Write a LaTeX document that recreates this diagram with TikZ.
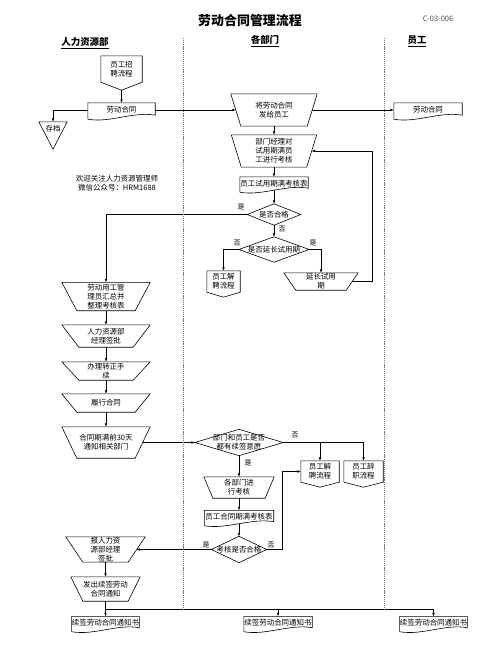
\documentclass[tikz,border=0pt]{standalone}
\usepackage{fontspec}
\setmainfont{Noto Sans CJK SC}
\usetikzlibrary{arrows.meta,calc}
\newcommand\flowfont{\fontsize{7.5}{9}\selectfont}
\tikzset{
  blk/.style={inner sep=0pt, align=center, font=\flowfont},
  sz/.style 2 args={minimum width=#1bp, minimum height=#2bp},
  outline/.style={line width=0.6pt},
  arr/.style={-{Latex[length=3.5pt,width=2.6pt]}, line width=0.5pt},
  ln/.style={line width=0.5pt},
  lab/.style={inner sep=0pt, font=\fontsize{7}{8}\selectfont},
  head/.style={inner sep=0pt, font=\bfseries\fontsize{9.5}{11}\selectfont},
  lane/.style={gray, line width=0.5pt, dash pattern=on 1.2pt off 0.9pt},
}

\begin{document}
\begin{tikzpicture}[x=1bp, y=-1bp]
  \path[fill=white] (0,0) rectangle (500,666);
  % title and lanes
  \node[font=\bfseries\fontsize{13}{15}\selectfont] (title) at (250,21) {劳动合同管理流程};
  \node[font=\fontsize{7.5}{9}\selectfont, text=black!70] (code) at (438,19) {C-03-006};
  \node[head] (hrhead) at (85,43) {\underline{人力资源部}};
  \node[head] (dphead) at (265,41) {\underline{各部门}};
  \node[head] (emhead) at (417,41) {\underline{员工}};
  \coordinate (laneA) at (183,38);
  \coordinate (laneB) at (384,38);
  \coordinate (loopx) at (372,0);

  % HR column
  \node[blk, sz={41}{26}] (recruit) at (121.5,69) {员工招\\聘流程};
  \node[blk, sz={67}{14}] (hrdoc) at (121.5,110) {劳动合同};
  \node[blk, sz={28}{14}] (archive) at (53,129) {存档};
  \node[blk] (wx) at (117,183) {欢迎关注人力资源管理师\\微信公众号：HRM1688};
  \node[blk, sz={88}{28}] (sum) at (106,296.5) {劳动用工管\\理员汇总并\\整理考核表};
  \node[blk, sz={88}{22}] (appr) at (106,336) {人力资源部\\经理签批};
  \node[blk, sz={88}{18}] (reg) at (106,371) {办理转正手\\续};
  \node[blk, sz={88}{18}] (perf) at (106,403) {履行合同};
  \node[blk, sz={88}{31}] (notify) at (106,442.5) {合同期满前30天\\通知相关部门};
  \node[blk, sz={79}{22}] (report) at (105.5,549.5) {报人力资\\源部经理\\签批};
  \node[blk, sz={69}{24}] (issue) at (105.5,589) {发出续签劳动\\合同通知};
  \node[blk, sz={67}{13}] (noteA) at (105.5,623) {续签劳动合同通知书};

  % department column
  \node[blk, sz={86}{32}] (send) at (274,110) {将劳动合同\\发给员工};
  \node[blk, sz={85}{32}] (eval) at (274,151) {部门经理对\\试用期满员\\工进行考核};
  \node[blk, sz={68}{13}] (probform) at (274,183.5) {员工试用期满考核表};
  \node[blk, sz={53}{21}] (pass1) at (274,214.5) {是否合格};
  \node[blk, sz={70}{25}] (extq) at (274,249.5) {是否延长试用期};
  \node[blk, sz={33}{21}] (dismissA) at (223.5,281.5) {员工解\\聘流程};
  \node[blk, sz={74}{17}] (extp) at (321,281.5) {延长试用\\期};
  \node[blk, sz={88}{26}] (renew) at (239,442.5) {部门和员工是否\\都有续签意愿};
  \node[blk, sz={70}{21}] (deptev) at (239,487.5) {各部门进\\行考核};
  \node[blk, sz={69}{13}] (endform) at (239,517) {员工合同期满考核表};
  \node[blk, sz={55}{26}] (pass2) at (239,549.5) {考核是否合格};
  \node[blk, sz={38}{21}] (dismissB) at (320,471.5) {员工解\\聘流程};
  \node[blk, sz={39}{21}] (resign) at (363.5,471.5) {员工辞\\职流程};
  \node[blk, sz={68}{13}] (noteB) at (278,623) {续签劳动合同通知书};

  % employee column
  \node[blk, sz={68}{14}] (empdoc) at (428,110) {劳动合同};
  \node[blk, sz={67}{13}] (noteC) at (433.5,623) {续签劳动合同通知书};

  % outlines
  \foreach \n/\d in {send/10, eval/10, extp/12, sum/15, appr/17, reg/17, perf/15,
                     notify/15, deptev/9, report/17, issue/12} {
    \draw[outline] (\n.north west) -- (\n.north east) -- ($(\n.south east)+(-\d,0)$)
      -- ($(\n.south west)+(\d,0)$) -- cycle;
    \coordinate (\n-l) at ($(\n.west)+(0.5*\d,0)$);
    \coordinate (\n-r) at ($(\n.east)+(-0.5*\d,0)$);
  }
  \foreach \n/\t in {recruit/8, dismissA/5, dismissB/5, resign/5}
    \draw[outline] (\n.south west) -- (\n.north west) -- (\n.north east) -- (\n.south east)
      -- ($(\n.south)+(0,\t)$) coordinate (\n-tip) -- cycle;
  \foreach \n in {hrdoc, empdoc, probform, endform, noteA, noteB, noteC}
    \draw[outline] ($(\n.south west)+(0,2)$) -- (\n.north west) -- (\n.north east)
      -- ($(\n.south east)+(0,-2)$) .. controls +(-22,-4) and +(22,4) .. ($(\n.south west)+(0,2)$);
  \foreach \n in {pass1, extq, renew, pass2}
    \draw[outline] (\n.north) -- (\n.east) -- (\n.south) -- (\n.west) -- cycle;
  \draw[outline] (archive.north west) -- (archive.north east) -- ($(archive.south)+(0,13)$) -- cycle;

  % connectors
  \draw[arr] (recruit-tip) -- (hrdoc.north);
  \draw[arr] (hrdoc.west) -| (archive.north);
  \draw[arr] (hrdoc.east) -- (send-l);
  \draw[arr] (send-r) -- (empdoc.west);
  \draw[arr] (send.south) -- (eval.north);
  \draw[arr] (eval.south) -- (probform.north);
  \draw[arr] (probform.south) -- (pass1.north);
  \draw[arr] (pass1.west) -| (sum.north);
  \draw[arr] (pass1.south) -- (extq.north);
  \draw[arr] (extq.west) -| (dismissA.north);
  \draw[arr] (extq.east) -| (extp.north);
  \draw[arr] (extp-r) -| (loopx |- eval-r) -- (eval-r);
  \draw[arr] (sum.south) -- (appr.north);
  \draw[arr] (appr.south) -- (reg.north);
  \draw[arr] (reg.south) -- (perf.north);
  \draw[arr] (perf.south) -- (notify.north);
  \draw[arr] (notify-r) -- (renew.west);
  \draw[arr] (renew.east) -| (resign.north);
  \draw[arr] (renew.east -| dismissB.north) -- (dismissB.north);
  \draw[arr] (renew.south) -- (deptev.north);
  \draw[arr] (deptev.south) -- (endform.north);
  \draw[arr] (endform.south) -- (pass2.north);
  \draw[arr] (pass2.west) -- (report-r);
  \draw[arr] (pass2.east) -- ++(16,0) |- (dismissB.west);
  \draw[arr] (report.south) -- (issue.north);
  \draw[ln] (issue.south) -- ++(0,8) coordinate (split);
  \draw[arr] (split) -- (noteA.north);
  \draw[arr] (split) -| (noteB.north);
  \draw[arr] (split) -| (noteC.north);
  \draw[lane] (laneA) -- (laneA |- split);
  \draw[lane] (laneB) -- (laneB |- split);

  % branch labels
  \node[lab] (yes1) at (241,207) {是};
  \node[lab] (no1) at (282,229) {否};
  \node[lab] (no2) at (237,243) {否};
  \node[lab] (yes2) at (313,243) {是};
  \node[lab] (no3) at (295,435) {否};
  \node[lab] (yes3) at (248,463) {是};
  \node[lab] (yes4) at (206,545) {是};
  \node[lab] (no4) at (271,545) {否};
\end{tikzpicture}
\end{document}
